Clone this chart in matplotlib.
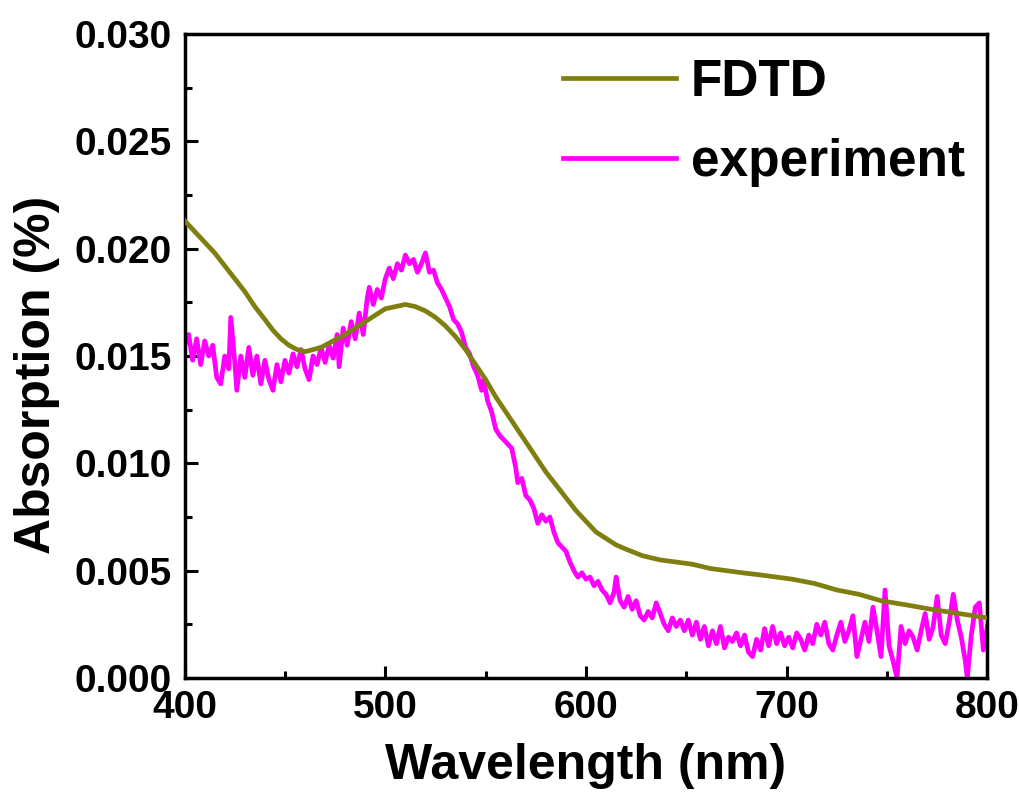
import numpy as np
import matplotlib.pyplot as plt
from matplotlib.ticker import MultipleLocator, FormatStrFormatter

plt.rcParams['font.family'] = ['Liberation Sans', 'DejaVu Sans']
plt.rcParams['font.weight'] = 'bold'

# FDTD simulation (smooth)
fdtd_wl = [400, 405, 410, 415, 420, 425, 430, 435, 440, 444, 448, 452, 456, 460, 464,
           468, 472, 476, 480, 485, 490, 495, 500, 505, 510, 515, 520, 525, 530, 535,
           540, 545, 550, 555, 560, 565, 570, 575, 580, 585, 590, 595, 600, 605, 610,
           615, 620, 628, 637, 645, 653, 662, 670, 678, 687, 695, 703, 714, 725, 736,
           747, 760, 772, 786, 800]
fdtd_abs = [0.0213, 0.0208, 0.0203, 0.0198, 0.0192, 0.0186, 0.0180, 0.0173, 0.0167, 0.0162,
            0.0158, 0.0155, 0.0153, 0.0152, 0.0153, 0.0154, 0.0156, 0.0158, 0.0160, 0.0163,
            0.0166, 0.0169, 0.0172, 0.0173, 0.0174, 0.0173, 0.0171, 0.0168, 0.0164, 0.0159,
            0.0153, 0.0146, 0.0139, 0.0131, 0.0124, 0.0117, 0.0110, 0.0103, 0.0096, 0.0090,
            0.0084, 0.0078, 0.0073, 0.0068, 0.0065, 0.0062, 0.0060, 0.0057, 0.0055, 0.0054,
            0.0053, 0.0051, 0.0050, 0.0049, 0.0048, 0.0047, 0.0046, 0.0044, 0.0041, 0.0039,
            0.0036, 0.0034, 0.0032, 0.0030, 0.0028]

# measured spectrum (noisy)
exp_wl = [400, 402, 404, 406, 408, 410, 412, 414, 416, 418, 420, 422, 423, 425, 426, 428,
          430, 432, 434, 436, 438, 440, 442, 444, 446, 448, 450, 452, 454, 456, 458, 460,
          462, 464, 466, 468, 470, 472, 474, 476, 477, 479, 481, 483, 485, 487, 489, 491,
          492, 494, 496, 498, 500, 502, 504, 506, 508, 510, 512, 514, 516, 518, 520, 522,
          524, 526, 528, 530, 532, 534, 536, 538, 540, 542, 544, 546, 548, 549, 551, 553,
          555, 557, 559, 561, 563, 565, 566, 568, 570, 572, 574, 576, 578, 580, 582, 584,
          586, 588, 590, 592, 594, 596, 598, 600, 602, 604, 606, 608, 610, 612, 614, 615,
          617, 619, 621, 623, 625, 627, 629, 631, 633, 635, 637, 639, 641, 643, 645, 647,
          649, 651, 653, 655, 657, 659, 661, 663, 665, 667, 669, 671, 673, 675, 677, 679,
          681, 683, 685, 687, 689, 691, 693, 695, 697, 699, 701, 703, 705, 707, 709, 711,
          713, 715, 717, 719, 721, 723, 725, 727, 729, 731, 733, 735, 737, 739, 741, 743,
          745, 747, 749, 751, 753, 755, 757, 759, 761, 763, 765, 767, 769, 771, 773, 775,
          777, 779, 781, 783, 785, 787, 789, 790, 792, 794, 796, 798, 800]
exp_abs = [0.0155, 0.0160, 0.0148, 0.0158, 0.0146, 0.0157, 0.0150, 0.0155, 0.0140, 0.0137,
           0.0150, 0.0144, 0.0168, 0.0147, 0.0134, 0.0150, 0.0140, 0.0154, 0.0141, 0.0150,
           0.0137, 0.0148, 0.0139, 0.0134, 0.0146, 0.0138, 0.0148, 0.0142, 0.0151, 0.0145,
           0.0153, 0.0144, 0.0139, 0.0150, 0.0146, 0.0154, 0.0147, 0.0155, 0.0149, 0.0160,
           0.0145, 0.0163, 0.0155, 0.0166, 0.0158, 0.0170, 0.0160, 0.0177, 0.0182, 0.0174,
           0.0181, 0.0177, 0.0186, 0.0191, 0.0186, 0.0193, 0.0190, 0.0197, 0.0193, 0.0195,
           0.0189, 0.0193, 0.0198, 0.0189, 0.0190, 0.0184, 0.0181, 0.0177, 0.0173, 0.0167,
           0.0165, 0.0161, 0.0154, 0.0151, 0.0145, 0.0141, 0.0134, 0.0139, 0.0129, 0.0124,
           0.0116, 0.0113, 0.0111, 0.0109, 0.0107, 0.0098, 0.0091, 0.0093, 0.0085, 0.0083,
           0.0079, 0.0072, 0.0076, 0.0073, 0.0075, 0.0068, 0.0063, 0.0061, 0.0059, 0.0054,
           0.0050, 0.0047, 0.0049, 0.0046, 0.0047, 0.0043, 0.0045, 0.0041, 0.0039, 0.0035,
           0.0040, 0.0047, 0.0036, 0.0033, 0.0038, 0.0032, 0.0036, 0.0029, 0.0027, 0.0031,
           0.0028, 0.0035, 0.0030, 0.0025, 0.0022, 0.0028, 0.0024, 0.0027, 0.0022, 0.0027,
           0.0020, 0.0026, 0.0018, 0.0024, 0.0015, 0.0022, 0.0016, 0.0024, 0.0014, 0.0019,
           0.0017, 0.0021, 0.0015, 0.0020, 0.0012, 0.0010, 0.0018, 0.0013, 0.0023, 0.0015,
           0.0024, 0.0016, 0.0021, 0.0015, 0.0019, 0.0014, 0.0021, 0.0018, 0.0013, 0.0020,
           0.0016, 0.0025, 0.0020, 0.0026, 0.0016, 0.0013, 0.0020, 0.0026, 0.0017, 0.0022,
           0.0029, 0.0010, 0.0018, 0.0026, 0.0017, 0.0033, 0.0022, 0.0010, 0.0041, 0.0015,
           0.0008, 0.0000, 0.0024, 0.0016, 0.0022, 0.0019, 0.0013, 0.0022, 0.0030, 0.0018,
           0.0024, 0.0038, 0.0020, 0.0016, 0.0026, 0.0039, 0.0027, 0.0019, 0.0008, 0.0000,
           0.0020, 0.0033, 0.0035, 0.0013, 0.0024]

fig = plt.figure(figsize=(10.2, 8), dpi=100)
ax = fig.add_axes([0.181, 0.1525, 0.787, 0.805])

ax.plot(fdtd_wl, fdtd_abs, color='#7f7f10', lw=3.4, label='FDTD', zorder=3)
ax.plot(exp_wl, exp_abs, color='#ff00ff', lw=3.4, label='experiment', zorder=2)

ax.set_xlim(400, 800)
ax.set_ylim(0, 0.030)
ax.xaxis.set_major_locator(MultipleLocator(100))
ax.xaxis.set_minor_locator(MultipleLocator(50))
ax.yaxis.set_major_locator(MultipleLocator(0.005))
ax.yaxis.set_minor_locator(MultipleLocator(0.0025))
ax.yaxis.set_major_formatter(FormatStrFormatter('%.3f'))

ax.tick_params(which='both', direction='in', top=False, right=False, width=2.2,
               labelsize=28, pad=9)
ax.tick_params(which='major', length=9)
ax.tick_params(which='minor', length=5)
for lab in ax.get_xticklabels() + ax.get_yticklabels():
    lab.set_fontweight('bold')
for s in ax.spines.values():
    s.set_linewidth(2.5)

ax.set_xlabel('Wavelength (nm)', fontsize=36, fontweight='bold', labelpad=12)
ax.set_ylabel('Absorption (%)', fontsize=36, fontweight='bold')
ax.yaxis.set_label_coords(-0.155, 0.47)

leg = ax.legend(loc='upper right', bbox_to_anchor=(1.03, 1.035), frameon=False,
                fontsize=37, handlelength=2.2, handletextpad=0.3, labelspacing=0.6)
for t in leg.get_texts():
    t.set_fontweight('bold')

fig.savefig('out.png', dpi=100)
